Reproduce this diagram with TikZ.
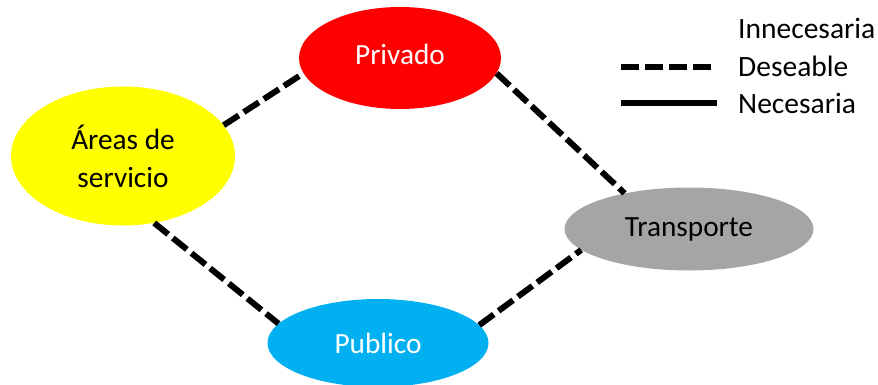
\documentclass[tikz,border=0pt]{standalone}
\usepackage{fontspec}
\setmainfont{Carlito}
\usetikzlibrary{shapes.geometric}
\definecolor{cred}{HTML}{FF0000}
\definecolor{cyel}{HTML}{FFFF00}
\definecolor{cgray}{HTML}{A5A5A5}
\definecolor{cblue}{HTML}{00B0F0}
\tikzset{
  blob/.style={ellipse, inner sep=0pt, draw=none, align=center,
    font=\fontsize{29.3}{38}\selectfont},
  deseable/.style={line width=6pt, dash pattern=on 18pt off 6pt, line cap=butt},
  necesaria/.style={line width=6pt, line cap=butt},
  legtext/.style={anchor=west, inner sep=0pt, font=\fontsize{29.5}{34}\selectfont}
}
\begin{document}
\begin{tikzpicture}[x=1pt, y=-1pt]
\useasboundingbox (0,0) rectangle (878,385);
\node[blob, fill=cred, minimum width=202pt, minimum height=102pt] (pr) at (400,58) {};
\node[blob, text=white] (prt) at ([yshift=4pt]pr.center) {Privado};
\node[blob, fill=cyel, text=black, minimum width=224pt, minimum height=139pt] (ar) at (123,156) {Áreas de\\servicio};
\node[blob, fill=cgray, text=black, minimum width=249pt, minimum height=83pt] (tr) at (689,229) {Transporte};
\node[blob, fill=cblue, text=white, minimum width=221pt, minimum height=88pt] (pu) at (378,343) {Publico};
\draw[deseable] (ar.17.9) -- (pr.189.8);
\draw[deseable] (pr.351.4) -- (tr.151.8);
\draw[deseable] (ar.295.9) -- (pu.169.7);
\draw[deseable] (pu.10.3) -- (tr.191.4);
% legend
\node[legtext] (l1) at (738,28) {Innecesaria};
\node[legtext] (l2) at (738,66) {Deseable};
\node[legtext] (l3) at (738,103) {Necesaria};
\coordinate (d1) at (621,67);
\coordinate (d2) at (711,67);
\coordinate (n1) at (621,103);
\coordinate (n2) at (717,103);
\draw[deseable] (d1) -- (d2);
\draw[necesaria] (n1) -- (n2);
\end{tikzpicture}
\end{document}
